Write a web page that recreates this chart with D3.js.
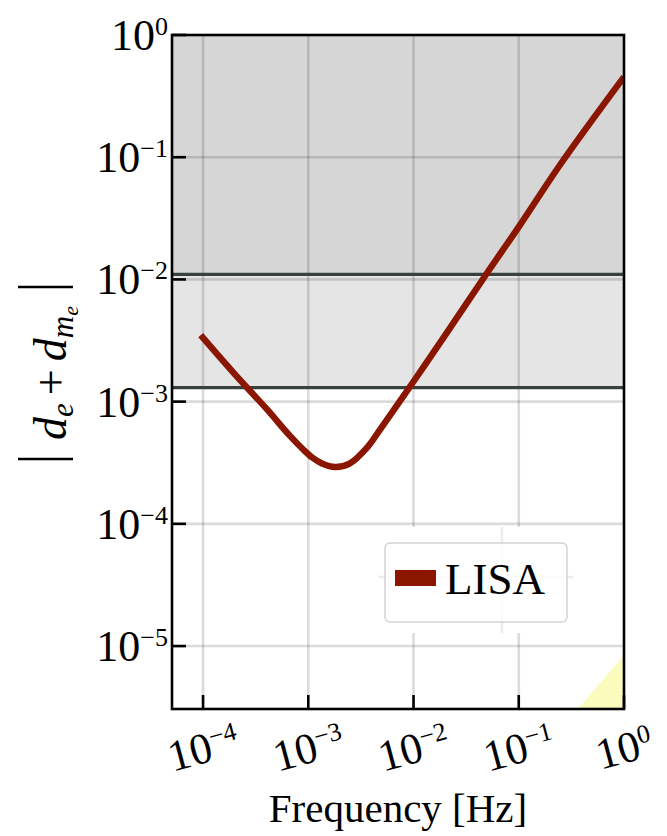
<!DOCTYPE html>
<html>
<head>
<meta charset="utf-8">
<script src="https://cdn.jsdelivr.net/npm/d3@7"></script>
<style>
    html, body { margin: 0; padding: 0; background: #fff; }
    svg { display: block; font-family: 'Liberation Serif', 'Times New Roman', Times, serif; }
</style>
</head>
<body>
<div id="chart"></div>
<script>
const lisaFreq = [9.5e-5, 2e-4, 4e-4, 6.7e-4, 8.95e-4, 1.09e-3, 1.35e-3, 1.8e-3, 2.44e-3, 3.6e-3, 4.9e-3, 1e-2, 2e-2, 5e-2, 1e-1, 2.5e-1, 1]
const lisaValue = [3.5e-3, 1.68e-3, 8.75e-4, 5.24e-4, 4.06e-4, 3.49e-4, 3.12e-4, 2.92e-4, 3.09e-4, 4.18e-4, 6.05e-4, 1.46e-3, 3.5e-3, 1.13e-2, 2.69e-2, 8.8e-2, 0.454]

const yellowFreq = [0.1, 1]
const yellowValue = [8.4e-7, 8.4e-6]

// shaded bands: [upper, lower]
const bandDark = [1, 1.1e-2]
const bandLight = [1.1e-2, 1.3e-3]
const limitLines = [1.1e-2, 1.3e-3]

const xTicks = [1e-4, 1e-3, 1e-2, 1e-1, 1]
const xTickExp = ['−4', '−3', '−2', '−1', '0']
const yTicks = [1, 1e-1, 1e-2, 1e-3, 1e-4, 1e-5]
const yTickExp = ['0', '−1', '−2', '−3', '−4', '−5']

const W = 667, H = 836
const plot = { left: 172, right: 624, top: 35, bottom: 709 }

const x = d3.scaleLog().domain([Math.pow(10, -4.295), 1]).range([plot.left, plot.right])
const y = d3.scaleLog().domain([Math.pow(10, -5.515), 1]).range([plot.bottom, plot.top])

const svg = d3.select('#chart').append('svg').attr('width', W).attr('height', H)

svg.append('clipPath').attr('id', 'clip')
    .append('rect')
        .attr('x', plot.left).attr('y', plot.top)
        .attr('width', plot.right - plot.left).attr('height', plot.bottom - plot.top)

const g = svg.append('g').attr('clip-path', 'url(#clip)')

// bands
g.append('rect')
    .attr('x', plot.left).attr('width', plot.right - plot.left)
    .attr('y', y(bandDark[0])).attr('height', y(bandDark[1]) - y(bandDark[0]))
    .attr('fill', '#d6d6d6')
g.append('rect')
    .attr('x', plot.left).attr('width', plot.right - plot.left)
    .attr('y', y(bandLight[0])).attr('height', y(bandLight[1]) - y(bandLight[0]))
    .attr('fill', '#e5e5e5')

// grid
g.append('g').selectAll('line').data(xTicks.slice(0, -1)).enter().append('line')
    .attr('x1', d => x(d)).attr('x2', d => x(d))
    .attr('y1', plot.top).attr('y2', plot.bottom)
    .attr('stroke', '#000').attr('stroke-opacity', 0.14).attr('stroke-width', 2.6)
g.append('g').selectAll('line').data(yTicks.slice(1)).enter().append('line')
    .attr('x1', plot.left).attr('x2', plot.right)
    .attr('y1', d => y(d)).attr('y2', d => y(d))
    .attr('stroke', '#000').attr('stroke-opacity', 0.14).attr('stroke-width', 2.6)

// limit lines
g.append('g').selectAll('line').data(limitLines).enter().append('line')
    .attr('x1', plot.left).attr('x2', plot.right)
    .attr('y1', d => y(d)).attr('y2', d => y(d))
    .attr('stroke', '#374140').attr('stroke-width', 3.2)

// yellow region
const yellow = yellowFreq.map((f, i) => ({ f, v: yellowValue[i] }))
g.append('path')
    .datum(yellow)
    .attr('d', d3.area().x(d => x(d.f)).y0(plot.bottom).y1(d => y(d.v)))
    .attr('fill', '#fbfbbd')

// LISA curve
const lisa = lisaFreq.map((f, i) => ({ f, v: lisaValue[i] }))
g.append('path')
    .datum(lisa)
    .attr('d', d3.line().x(d => x(d.f)).y(d => y(d.v)).curve(d3.curveCatmullRom.alpha(0.5)))
    .attr('fill', 'none')
    .attr('stroke', '#8b1600')
    .attr('stroke-width', 6.4)
    .attr('stroke-linejoin', 'round')

// legend (sits on its own white patch with a faint cross)
const leg = svg.append('g')
leg.append('rect').attr('x', 378).attr('y', 527).attr('width', 195).attr('height', 106).attr('fill', '#fff')
leg.append('line').attr('x1', 378).attr('x2', 573).attr('y1', 577).attr('y2', 577)
    .attr('stroke', '#ececec').attr('stroke-width', 2.5)
leg.append('line').attr('x1', 502).attr('x2', 502).attr('y1', 527).attr('y2', 633)
    .attr('stroke', '#ececec').attr('stroke-width', 2.5)
leg.append('rect').attr('x', 385).attr('y', 543).attr('width', 182).attr('height', 79).attr('rx', 5)
    .attr('fill', '#fff').attr('fill-opacity', 0.8)
    .attr('stroke', '#d4d4d4').attr('stroke-width', 1.5)
leg.append('rect').attr('x', 395).attr('y', 570).attr('width', 41).attr('height', 16).attr('fill', '#8b1600')
leg.append('text').attr('x', 445).attr('y', 594).attr('font-size', 45).text('LISA')

// frame
svg.append('rect')
    .attr('x', plot.left).attr('y', plot.top)
    .attr('width', plot.right - plot.left).attr('height', plot.bottom - plot.top)
    .attr('fill', 'none').attr('stroke', '#000').attr('stroke-width', 2.6)

// ticks (inward)
svg.append('g').selectAll('line').data(xTicks).enter().append('line')
    .attr('x1', d => x(d)).attr('x2', d => x(d))
    .attr('y1', plot.bottom).attr('y2', plot.bottom - 14)
    .attr('stroke', '#000').attr('stroke-width', 2.6)
svg.append('g').selectAll('line').data(yTicks).enter().append('line')
    .attr('x1', plot.left).attr('x2', plot.left + 14)
    .attr('y1', d => y(d)).attr('y2', d => y(d))
    .attr('stroke', '#000').attr('stroke-width', 2.6)

// y tick labels
const yLab = svg.append('g').selectAll('text').data(yTicks).enter().append('text')
    .attr('x', 168).attr('y', d => y(d) + 15)
    .attr('text-anchor', 'end').attr('font-size', 44)
yLab.append('tspan').text('10')
yLab.append('tspan').attr('font-size', 26).attr('dy', -15).text((d, i) => yTickExp[i])

// x tick labels, tilted
const xLab = svg.append('g').selectAll('g').data(xTicks).enter().append('g')
    .attr('transform', d => `translate(${x(d)}, 747) rotate(-15)`)
    .append('text')
        .attr('y', 16).attr('text-anchor', 'middle').attr('font-size', 44)
xLab.append('tspan').text('10')
xLab.append('tspan').attr('font-size', 26).attr('dy', -15).text((d, i) => xTickExp[i])

// axis titles
svg.append('text')
    .attr('x', (plot.left + plot.right) / 2).attr('y', 822)
    .attr('text-anchor', 'middle').attr('font-size', 41)
    .text('Frequency [Hz]')

const yTitle = svg.append('g').attr('transform', 'translate(66, 373) rotate(-90)')
const t = yTitle.append('text').attr('text-anchor', 'middle').attr('font-size', 46)
t.append('tspan').attr('font-style', 'italic').text('d')
t.append('tspan').attr('font-style', 'italic').attr('font-size', 31).attr('dy', 7).text('e')
t.append('tspan').attr('dy', -7).attr('dx', 8).text('+')
t.append('tspan').attr('font-style', 'italic').attr('dx', 8).text('d')
t.append('tspan').attr('font-style', 'italic').attr('font-size', 31).attr('dy', 7).text('m')
t.append('tspan').attr('font-style', 'italic').attr('font-size', 22).attr('dy', 5).text('e')
yTitle.selectAll('line.bar').data([-86, 86]).enter().append('line')
    .attr('x1', d => d).attr('x2', d => d)
    .attr('y1', -48).attr('y2', 7)
    .attr('stroke', '#000').attr('stroke-width', 2.6)
</script>
</body>
</html>
